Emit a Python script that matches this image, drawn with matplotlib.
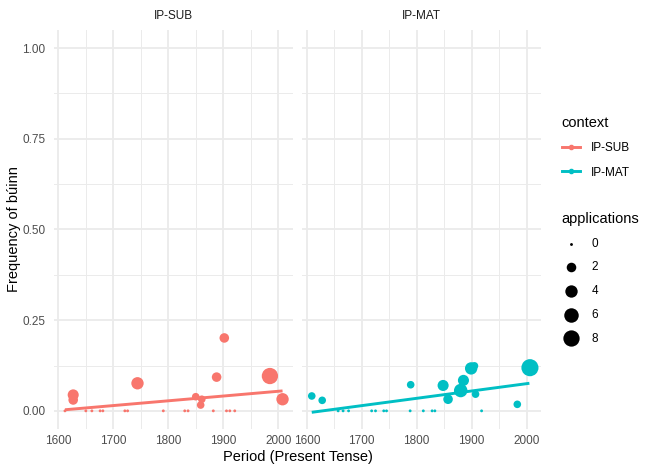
import numpy as np
import matplotlib
matplotlib.use("Agg")
import matplotlib.pyplot as plt
from matplotlib.lines import Line2D

plt.rcParams["font.family"] = ["Liberation Sans", "DejaVu Sans"]

# IP-SUB panel: year, frequency of búinn, number of applications
years_sub = [1627, 1627, 1744, 1902, 1888, 1985, 2008, 1850, 1861, 1859,
             1612, 1650, 1661, 1676, 1681, 1721, 1726, 1791, 1830, 1836,
             1882, 1906, 1912, 1921]
freq_sub = [0.044, 0.030, 0.076, 0.201, 0.093, 0.096, 0.032, 0.039, 0.032, 0.016,
            0, 0, 0, 0, 0, 0, 0, 0, 0, 0, 0, 0, 0, 0]
apps_sub = [3, 2, 4, 2, 2, 8, 4, 1, 1, 1,
            0, 0, 0, 0, 0, 0, 0, 0, 0, 0, 0, 0, 0, 0]

# IP-MAT panel
years_mat = [1609, 1628, 1789, 1848, 1857, 1880, 1885, 1899, 1905, 1907, 1983, 2006,
             1657, 1666, 1676, 1718, 1725, 1740, 1745, 1788, 1812, 1828, 1833, 1918]
freq_mat = [0.041, 0.029, 0.072, 0.070, 0.032, 0.056, 0.084, 0.117, 0.124, 0.046, 0.018, 0.119,
            0, 0, 0, 0, 0, 0, 0, 0, 0, 0, 0, 0]
apps_mat = [1, 1, 1, 3, 2, 5, 3, 4, 1, 1, 1, 9,
            0, 0, 0, 0, 0, 0, 0, 0, 0, 0, 0, 0]

# linear trend (lm) end points
fit_years_sub = [1612, 2008]
fit_sub = [0.003, 0.055]
fit_years_mat = [1609, 2005]
fit_mat = [-0.004, 0.076]

panels = ["IP-SUB", "IP-MAT"]
colors = {"IP-SUB": "#F8766D", "IP-MAT": "#00BFC4"}
size_breaks = [0, 2, 4, 6, 8]
apps_max = 9


def marker_area(a):
    # ggplot-like sqrt size scale, range 1..6
    a = np.asarray(a, dtype=float)
    d_px = 2.85 * (1 + 5 * np.sqrt(a / apps_max))
    return (d_px * 0.72) ** 2


fig = plt.figure(figsize=(6.55, 4.71), dpi=100)
ax1 = fig.add_axes([0.0824, 0.0892, 0.3649, 0.8471])
ax2 = fig.add_axes([0.4617, 0.0892, 0.3650, 0.8471], sharey=ax1)

data = {
    "IP-SUB": (years_sub, freq_sub, apps_sub, fit_years_sub, fit_sub),
    "IP-MAT": (years_mat, freq_mat, apps_mat, fit_years_mat, fit_mat),
}

for ax, name in zip([ax1, ax2], panels):
    yrs, fr, ap, fy, fv = data[name]
    c = colors[name]
    ax.set_facecolor("white")
    for s in ax.spines.values():
        s.set_visible(False)
    ax.set_xlim(1592, 2027)
    ax.set_ylim(-0.05, 1.05)
    ax.set_xticks([1600, 1700, 1800, 1900, 2000])
    ax.set_xticks([1650, 1750, 1850, 1950], minor=True)
    ax.set_yticks([0, 0.25, 0.5, 0.75, 1.0])
    ax.set_yticks([0.125, 0.375, 0.625, 0.875], minor=True)
    ax.grid(which="major", color="#EBEBEB", lw=1.35)
    ax.grid(which="minor", color="#EBEBEB", lw=0.7)
    ax.set_axisbelow(True)
    ax.tick_params(which="both", length=0, labelsize=8.45, labelcolor="#4D4D4D")
    ax.tick_params(axis="x", pad=4)
    ax.tick_params(axis="y", pad=6)
    ax.scatter(yrs, fr, s=marker_area(ap), color=c, linewidths=0, zorder=3)
    ax.plot(fy, fv, color=c, lw=2.1, zorder=4, solid_capstyle="butt")

ax1.set_yticklabels(["0.00", "0.25", "0.50", "0.75", "1.00"])
plt.setp(ax2.get_yticklabels(), visible=False)

# facet strip labels
fig.text((54 + 293) / 2 / 655, 1 - 16 / 471, "IP-SUB", ha="center", va="center",
         fontsize=8.45, color="#1A1A1A")
fig.text((302 + 541.5) / 2 / 655, 1 - 16 / 471, "IP-MAT", ha="center", va="center",
         fontsize=8.45, color="#1A1A1A")

fig.text((54 + 541.5) / 2 / 655, 1 - 457 / 471, "Period (Present Tense)",
         ha="center", va="center", fontsize=10.5)
fig.text(14 / 655, 1 - 229.5 / 471, "Frequency of búinn", rotation=90,
         ha="center", va="center", fontsize=10.5)

# legends
ctx_handles = [Line2D([0], [0], color=colors[p], lw=2.1, marker="o", markersize=3.0)
               for p in panels]
leg1 = fig.legend(ctx_handles, panels, title="context", loc="upper left",
                  bbox_to_anchor=(556 / 655, 1 - 110 / 471), frameon=False,
                  fontsize=8.45, title_fontsize=10.5, handlelength=1.55,
                  handletextpad=0.95, labelspacing=1.05, borderpad=0,
                  alignment="left")

size_handles = [plt.scatter([], [], s=marker_area(b), color="black", linewidths=0)
                for b in size_breaks]
leg2 = fig.legend(size_handles, [str(b) for b in size_breaks], title="applications",
                  loc="upper left", bbox_to_anchor=(556 / 655, 1 - 206 / 471),
                  frameon=False, fontsize=8.45, title_fontsize=10.5,
                  handlelength=1.55, handletextpad=0.95, labelspacing=1.0,
                  borderpad=0, alignment="left", scatterpoints=1)

fig.savefig("out.png", dpi=100)
